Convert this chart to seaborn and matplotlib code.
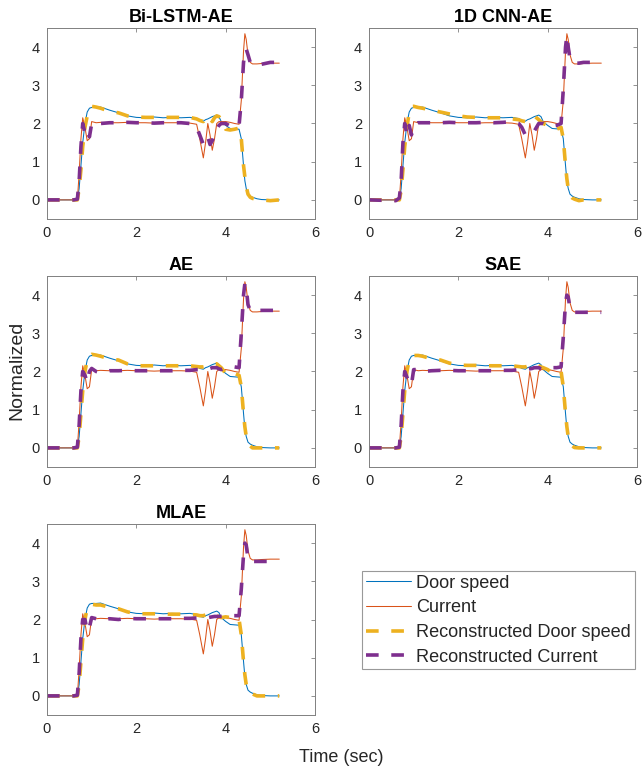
import numpy as np
import pandas as pd
import seaborn as sns
import matplotlib.pyplot as plt

# time knots (sec) shared by every trace
t = [0, 0.6, 0.68, 0.72, 0.76, 0.8, 0.85, 0.9, 0.95, 1.0, 1.1, 1.2, 1.4, 1.6,
     1.8, 2.0, 2.2, 2.4, 2.6, 2.8, 3.0, 3.2, 3.35, 3.42, 3.5, 3.55, 3.6, 3.65,
     3.7, 3.75, 3.8, 3.85, 3.9, 4.0, 4.1, 4.2, 4.3, 4.35, 4.4, 4.43, 4.46, 4.5,
     4.55, 4.6, 4.7, 4.8, 5.0, 5.2]

door_speed = [0, 0, 0, 0.3, 0.9, 1.5, 2.0, 2.3, 2.4, 2.42, 2.42, 2.43, 2.35, 2.28,
              2.2, 2.16, 2.15, 2.17, 2.15, 2.16, 2.15, 2.16, 2.13, 2.08, 2.06, 2.1, 2.12, 2.15,
              2.18, 2.2, 2.22, 2.18, 2.05, 1.95, 1.87, 1.86, 1.85, 1.6, 0.9, 0.5, 0.3, 0.15,
              0.1, 0.07, 0.03, 0.01, 0, 0]

current = [0, 0, 0, 0.7, 1.6, 2.15, 1.9, 1.55, 1.6, 2.05, 2.02, 2.03, 2.02, 2.02,
           2.03, 2.02, 2.02, 2.01, 2.02, 2.02, 2.02, 2.01, 1.98, 1.6, 1.1, 1.5, 2.0, 1.7,
           1.3, 1.6, 2.0, 2.05, 2.05, 2.05, 2.03, 2.0, 1.98, 2.6, 3.9, 4.35, 4.2, 3.8,
           3.6, 3.56, 3.56, 3.57, 3.58, 3.58]

models = ["Bi-LSTM-AE", "1D CNN-AE", "AE", "SAE", "MLAE"]

rec_door = {
    "Bi-LSTM-AE": [0, 0, 0, 0.3, 0.8, 1.4, 1.9, 2.2, 2.4, 2.45, 2.43, 2.4, 2.32, 2.28,
                   2.2, 2.17, 2.16, 2.16, 2.16, 2.16, 2.16, 2.16, 2.12, 2.08, 2.05, 2.15, 2.2, 2.12,
                   2.05, 2.15, 2.2, 2.18, 2.1, 1.85, 1.83, 1.85, 1.88, 1.6, 0.9, 0.6, 0.35, 0.15,
                   0.07, 0.04, 0.01, 0, -0.02, 0],
    "1D CNN-AE": [0, 0, 0, 0.25, 0.8, 1.4, 1.9, 2.3, 2.45, 2.45, 2.42, 2.4, 2.35, 2.3,
                  2.25, 2.2, 2.17, 2.16, 2.15, 2.15, 2.15, 2.12, 2.1, 2.07, 2.05, 2.08, 2.12, 2.17,
                  2.2, 2.15, 2.1, 2.05, 2.0, 1.95, 1.9, 1.85, 1.9, 1.6, 0.9, 0.55, 0.3, 0.12,
                  0.05, 0.02, -0.02, 0, 0, 0],
    "AE": [0, 0, 0, 0.3, 0.9, 1.5, 2.0, 2.3, 2.42, 2.45, 2.43, 2.4, 2.33, 2.3,
           2.2, 2.15, 2.15, 2.15, 2.15, 2.15, 2.15, 2.15, 2.13, 2.12, 2.12, 2.13, 2.15, 2.18,
           2.2, 2.2, 2.2, 2.15, 2.1, 1.95, 1.9, 1.95, 1.9, 1.6, 0.9, 0.55, 0.3, 0.12,
           0.05, 0.0, 0.0, 0.0, 0.0, 0],
    "SAE": [0, 0, 0, 0.3, 0.9, 1.5, 2.0, 2.3, 2.4, 2.42, 2.42, 2.4, 2.33, 2.3,
            2.22, 2.17, 2.16, 2.16, 2.15, 2.15, 2.15, 2.15, 2.13, 2.12, 2.12, 2.14, 2.17, 2.2,
            2.2, 2.18, 2.15, 2.12, 2.1, 2.05, 1.97, 1.95, 2.0, 1.6, 0.9, 0.55, 0.3, 0.12,
            0.05, 0.01, 0.0, 0.0, 0.0, 0],
    "MLAE": [0, 0, 0, 0.3, 0.9, 1.5, 2.0, 2.3, 2.38, 2.4, 2.38, 2.38, 2.32, 2.28,
             2.2, 2.15, 2.15, 2.15, 2.14, 2.14, 2.14, 2.13, 2.12, 2.1, 2.1, 2.12, 2.15, 2.16,
             2.17, 2.15, 2.1, 2.07, 2.05, 2.07, 2.05, 2.02, 2.0, 1.6, 0.9, 0.55, 0.3, 0.12,
             0.08, 0.05, 0.0, 0.0, 0.0, 0],
}

rec_current = {
    "Bi-LSTM-AE": [0, 0, 0.02, 0.5, 1.4, 2.0, 1.75, 1.85, 1.65, 2.0, 1.97, 2.0, 2.02, 2.02,
                   2.03, 2.02, 2.02, 2.01, 2.02, 2.02, 2.02, 2.0, 1.9, 1.7, 1.45, 1.5, 1.65, 1.45,
                   1.55, 1.7, 1.85, 1.95, 2.0, 2.0, 1.93, 1.92, 1.95, 2.6, 3.6, 3.85, 3.95, 3.8,
                   3.6, 3.55, 3.55, 3.55, 3.6, 3.6],
    "1D CNN-AE": [0, -0.02, 0.05, 0.5, 1.5, 2.0, 1.7, 1.95, 1.7, 1.95, 2.02, 2.02, 2.02, 2.02,
                  2.03, 2.02, 2.02, 2.02, 2.03, 2.02, 2.03, 2.05, 2.0, 1.9, 1.7, 1.72, 1.7, 1.75,
                  1.8, 1.9, 2.0, 2.0, 2.0, 1.95, 1.93, 1.95, 2.0, 2.9, 4.0, 4.3, 4.0, 3.7,
                  3.62, 3.58, 3.58, 3.6, 3.6, 3.6],
    "AE": [0, 0, 0.02, 0.6, 1.5, 2.0, 1.9, 1.72, 2.0, 2.08, 2.0, 1.97, 2.02, 2.02,
           2.03, 2.02, 2.02, 2.02, 2.02, 2.02, 2.03, 2.03, 2.05, 2.05, 2.05, 2.06, 2.07, 2.08,
           2.1, 2.1, 2.1, 2.07, 2.05, 2.1, 2.12, 2.12, 2.1, 3.0, 4.0, 4.3, 4.2, 3.75,
           3.6, 3.6, 3.6, 3.6, 3.6, 3.6],
    "SAE": [0, 0, 0.02, 0.6, 1.5, 2.0, 1.85, 1.7, 1.65, 2.05, 2.05, 2.0, 2.02, 2.03,
            2.03, 2.02, 2.02, 2.02, 2.02, 2.02, 2.03, 2.03, 2.05, 2.05, 2.05, 2.06, 2.07, 2.08,
            2.1, 2.1, 2.1, 2.07, 2.05, 2.08, 2.1, 2.1, 2.12, 2.9, 3.8, 4.0, 3.95, 3.65,
            3.55, 3.55, 3.55, 3.55, 3.55, 3.55],
    "MLAE": [0, 0, 0.02, 0.6, 1.5, 2.0, 2.0, 1.7, 1.8, 2.05, 2.02, 1.97, 2.02, 2.0,
             2.03, 2.02, 2.02, 2.02, 2.02, 2.02, 2.03, 2.03, 2.04, 2.05, 2.05, 2.05, 2.05, 2.06,
             2.07, 2.08, 2.08, 2.08, 2.08, 2.08, 2.1, 2.1, 2.1, 2.8, 3.7, 4.0, 3.95, 3.6,
             3.52, 3.52, 3.52, 3.52, 3.52, 3.52],
}

c_door = "#0072BD"
c_cur = "#D95319"
c_rdoor = "#EDB120"
c_rcur = "#7E2F8E"
edge = "#262626"

sns.set_theme(style="white")
plt.rcParams["font.family"] = ["Liberation Sans", "DejaVu Sans"]
plt.rcParams["axes.edgecolor"] = "#808080"

fig = plt.figure(figsize=(6.42, 7.71), dpi=100)

left_x = [47 / 642, 369 / 642]
bottoms = [1 - 219 / 771, 1 - 467 / 771, 1 - 715 / 771]
w = 268 / 642
h = 191 / 771

axes = []
for i, name in enumerate(models):
    r, c = divmod(i, 2)
    ax = fig.add_axes([left_x[c], bottoms[r], w, h])
    axes.append(ax)
    sns.lineplot(x=t, y=door_speed, ax=ax, color=c_door, lw=0.75, label="Door speed")
    sns.lineplot(x=t, y=current, ax=ax, color=c_cur, lw=0.75, label="Current")
    sns.lineplot(x=t, y=rec_door[name], ax=ax, color=c_rdoor, lw=2.6, dashes=(3.5, 3.5),
                 label="Reconstructed Door speed")
    sns.lineplot(x=t, y=rec_current[name], ax=ax, color=c_rcur, lw=2.6, dashes=(3.5, 3.5),
                 label="Reconstructed Current")
    ax.set_xlim(0, 6)
    ax.set_ylim(-0.5, 4.5)
    ax.set_xticks([0, 2, 4, 6])
    ax.set_yticks([0, 1, 2, 3, 4])
    ax.tick_params(direction="in", top=True, right=True, length=3, width=0.6,
                   colors="#808080", labelcolor=edge, labelsize=10.5, pad=5)
    for s in ax.spines.values():
        s.set_linewidth(0.7)
    ax.set_title(name, fontsize=13, fontweight="bold", color="black", pad=4)
    ax.set_xlabel("")
    ax.set_ylabel("")
    ax.legend_.remove()

handles, labels = axes[0].get_legend_handles_labels()
leg = fig.legend(handles, labels, loc="upper left", bbox_to_anchor=(362 / 642, 1 - 571 / 771),
                 frameon=True, fancybox=False, fontsize=13.1, handlelength=2.5,
                 handletextpad=0.28, borderpad=0.2, labelspacing=0.42,
                 borderaxespad=0)
leg.get_frame().set_edgecolor("#808080")
leg.get_frame().set_linewidth(0.8)

fig.text(17 / 642, 1 - 370 / 771, "Normalized", rotation=90, va="center", ha="center",
         fontsize=14, color=edge)
fig.text(341 / 642, 1 - 757 / 771, "Time (sec)", va="center", ha="center",
         fontsize=13, color=edge)

fig.savefig("out.png", dpi=100)
